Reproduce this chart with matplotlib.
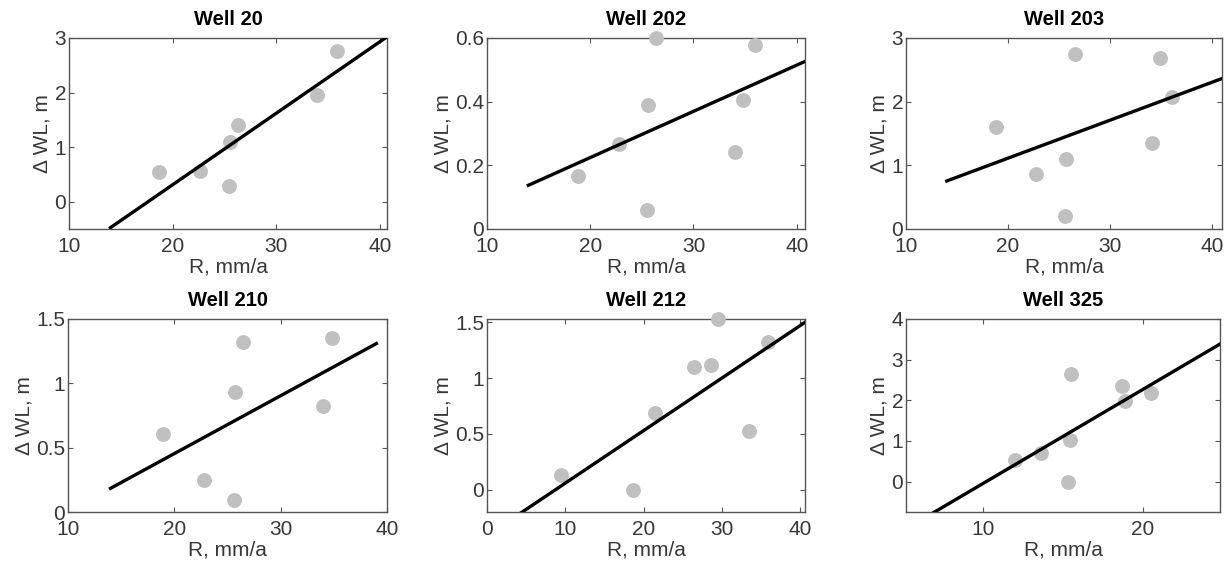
import numpy as np
import matplotlib
matplotlib.use("Agg")
import matplotlib.pyplot as plt
from matplotlib.ticker import FormatStrFormatter

plt.rcParams['font.family'] = ['Liberation Sans', 'DejaVu Sans']

# well names
wells = ["Well 20", "Well 202", "Well 203", "Well 210", "Well 212", "Well 325"]

# R, mm/a
r20 = [18.7, 22.6, 25.4, 25.5, 26.3, 33.9, 35.9]
r202 = [18.8, 22.8, 25.5, 25.6, 26.4, 34.0, 34.8, 36.0]
r203 = [18.8, 22.8, 25.7, 25.6, 26.6, 34.1, 34.9, 36.1]
r210 = [18.9, 22.8, 25.6, 25.7, 26.5, 34.0, 34.8]
r212 = [9.5, 18.6, 21.5, 26.4, 28.6, 29.5, 33.5, 35.9]
r325 = [12.0, 13.6, 15.5, 15.45, 15.3, 18.7, 18.9, 20.5]

# delta WL, m
wl20 = [0.55, 0.57, 0.29, 1.09, 1.41, 1.96, 2.76]
wl202 = [0.166, 0.267, 0.061, 0.388, 0.60, 0.243, 0.406, 0.579]
wl203 = [1.60, 0.87, 1.10, 0.21, 2.75, 1.35, 2.68, 2.07]
wl210 = [0.61, 0.25, 0.09, 0.93, 1.32, 0.82, 1.35]
wl212 = [0.134, -0.006, 0.687, 1.10, 1.12, 1.53, 0.53, 1.32]
wl325 = [0.53, 0.70, 2.65, 1.01, -0.01, 2.34, 1.99, 2.18]

# fitted line: slope, intercept, x from, x to
fit20 = [0.131, -2.31, 14, 41]
fit202 = [0.01452, -0.066, 14, 41]
fit203 = [0.0596, -0.08, 14, 41]
fit210 = [0.045, -0.446, 14, 39]
fit212 = [0.0471, -0.412, 0, 41]
fit325 = [0.232, -2.37, 5, 25]

# axis limits and ticks
xlims = [(10, 40.7), (10, 40.8), (10, 41), (10, 40), (0, 40.6), (5.2, 24.8)]
ylims = [(-0.5, 3), (0, 0.6), (0, 3), (0, 1.5), (-0.2, 1.53), (-0.75, 4)]
xticks = [[10, 20, 30, 40]] * 5 + [[10, 20]]
yticks = [[0, 1, 2, 3], [0, 0.2, 0.4, 0.6], [0, 1, 2, 3], [0, 0.5, 1, 1.5],
          [0, 0.5, 1, 1.5], [0, 1, 2, 3, 4]]
xticks[4] = [0, 10, 20, 30, 40]

rs = [r20, r202, r203, r210, r212, r325]
wls = [wl20, wl202, wl203, wl210, wl212, wl325]
fits = [fit20, fit202, fit203, fit210, fit212, fit325]

W, H = 1230, 567
# axes boxes in pixels: left, right, top, bottom
boxes = [(69, 387, 38, 229), (487, 805, 38, 229), (906, 1222, 38, 229),
         (68, 387, 319, 512), (487, 805, 319, 512), (906, 1220, 319, 512)]

fig = plt.figure(figsize=(12.3, 5.67), dpi=100)
edge = "#555555"
txt = "#383838"

for i in range(6):
    l, r, t, b = boxes[i]
    ax = fig.add_axes([l / W, 1 - b / H, (r - l) / W, (b - t) / H])
    ax.scatter(rs[i], wls[i], s=115, color="#c0c0c0", zorder=3, clip_on=False,
               linewidths=0)
    k, c, x0, x1 = fits[i]
    xx = np.array([x0, x1])
    ax.plot(xx, k * xx + c, color="black", lw=2.4, zorder=4)
    ax.set_xlim(xlims[i])
    ax.set_ylim(ylims[i])
    ax.set_xticks(xticks[i])
    ax.set_yticks(yticks[i])
    ax.yaxis.set_major_formatter(FormatStrFormatter('%g'))
    ax.tick_params(direction="in", top=True, right=True, labelsize=15,
                   colors=edge, labelcolor=txt, length=3.5, width=0.8, pad=2)
    ax.tick_params(axis="x", pad=6)
    for sp in ax.spines.values():
        sp.set_color(edge)
        sp.set_linewidth(1.0)
    ax.set_title(wells[i], fontsize=14.5, fontweight="bold", pad=9)
    ax.set_xlabel("R, mm/a", fontsize=15, color=txt, labelpad=1)
    ax.set_ylabel("Δ WL, m", fontsize=15, color=txt, labelpad=2)

fig.savefig("out.png", dpi=100)
